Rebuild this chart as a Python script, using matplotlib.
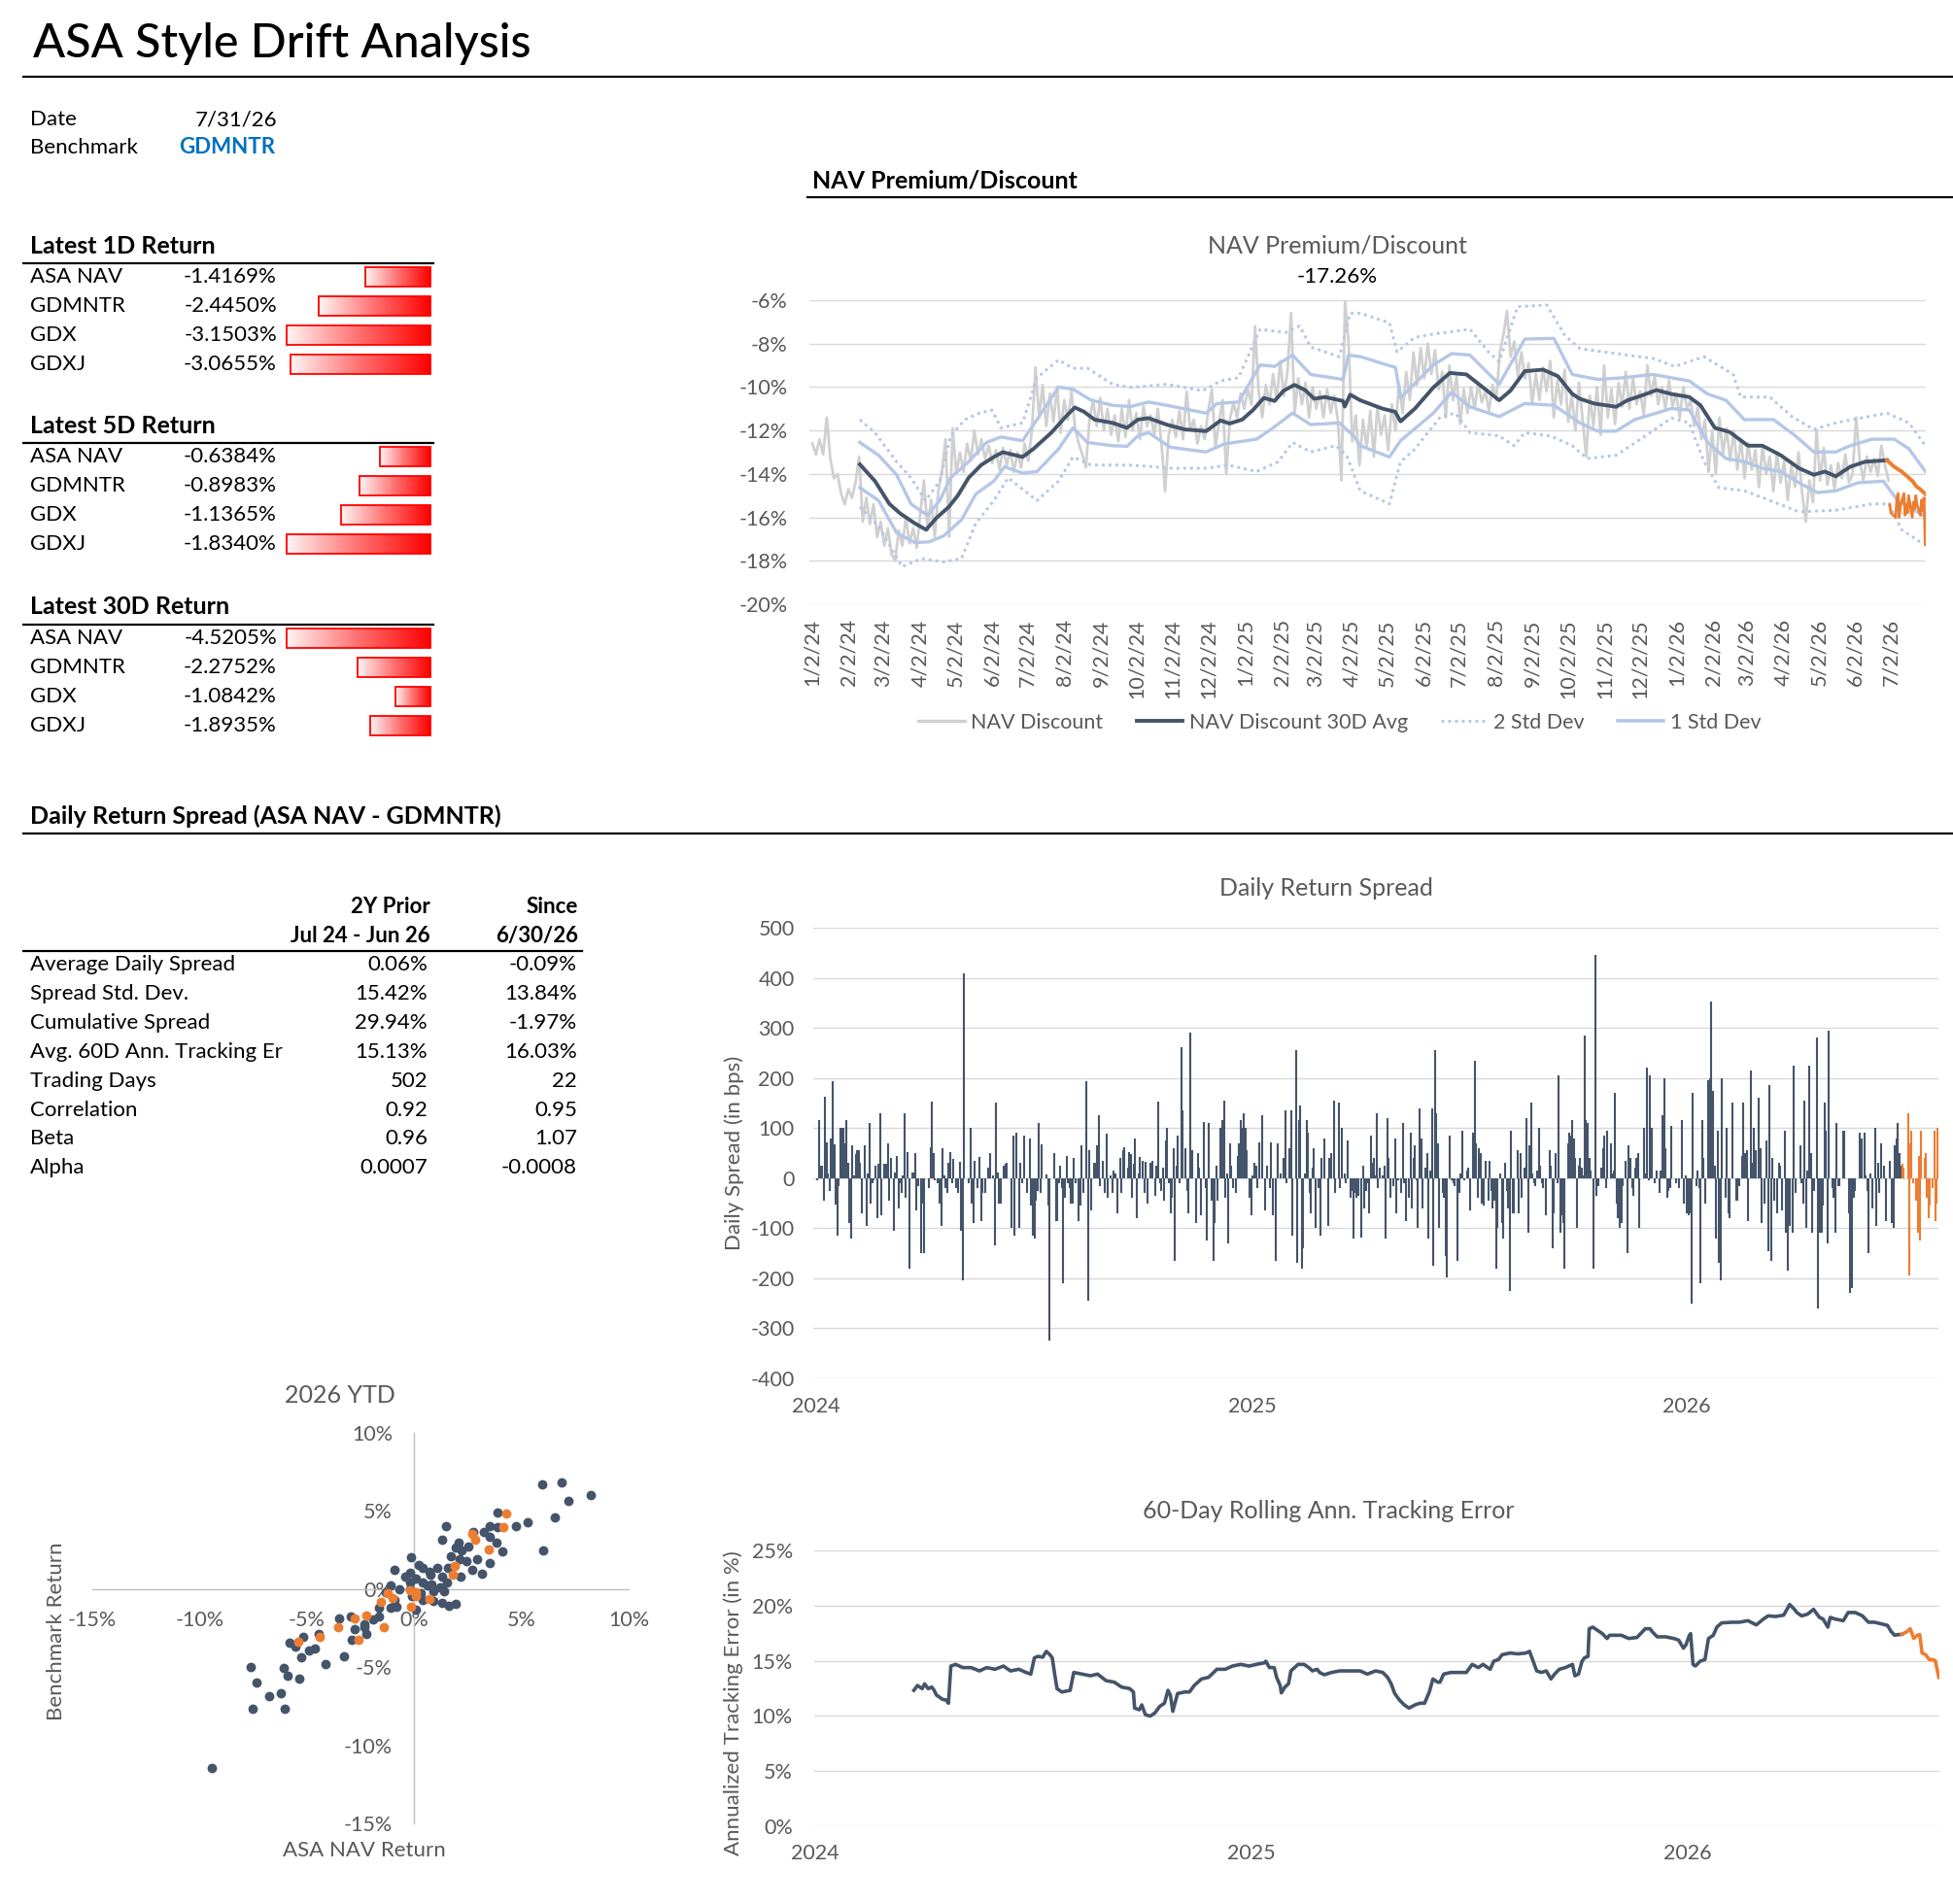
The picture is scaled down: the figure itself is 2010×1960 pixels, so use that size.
import numpy as np
import pandas as pd
import matplotlib
matplotlib.use("Agg")
import matplotlib.pyplot as plt
import matplotlib.dates as mdates
from matplotlib.colors import LinearSegmentedColormap
from matplotlib.patches import Rectangle
from matplotlib.lines import Line2D

plt.rcParams['font.family'] = ['Lato', 'DejaVu Sans']
plt.rcParams['axes.unicode_minus'] = False

# ---------------- data ----------------
report_date = '7/31/26'
benchmark = 'GDMNTR'
ret_names = ['ASA NAV', 'GDMNTR', 'GDX', 'GDXJ']
ret_1d = [-1.4169, -2.4450, -3.1503, -3.0655]
ret_5d = [-0.6384, -0.8983, -1.1365, -1.8340]
ret_30d = [-4.5205, -2.2752, -1.0842, -1.8935]

stat_labels = ['Average Daily Spread', 'Spread Std. Dev.', 'Cumulative Spread',
               'Avg. 60D Ann. Tracking Er', 'Trading Days', 'Correlation', 'Beta', 'Alpha']
stat_2y = ['0.06%', '15.42%', '29.94%', '15.13%', '502', '0.92', '0.96', '0.0007']
stat_since = ['-0.09%', '13.84%', '-1.97%', '16.03%', '22', '0.95', '1.07', '-0.0008']

# NAV discount (%), sampled evenly from 1/2/24 to 6/30/26
nav_raw = [
    -12.6, -13.1, -12.4, -13.1, -11.4, -13.3, -14.2, -14.0, -14.9, -15.4,
    -14.7, -15.1, -14.4, -13.2, -16.2, -15.1, -16.3, -15.4, -16.9, -16.2,
    -17.3, -16.5, -17.7, -18.0, -16.6, -17.3, -16.0, -17.2, -16.5, -17.4,
    -15.8, -14.3, -16.6, -15.2, -16.9, -14.8, -13.9, -12.4, -16.9, -11.9,
    -14.0, -13.0, -13.9, -12.6, -13.4, -12.0, -13.1, -12.4, -13.3, -12.7,
    -13.5, -12.9, -13.8, -12.8, -13.6, -12.9, -13.9, -13.0, -13.7, -12.6,
    -13.4, -12.0, -9.1, -11.4, -9.9, -11.8, -10.3, -11.6, -10.0, -12.1,
    -10.6, -11.5, -10.2, -11.9, -12.6, -13.1, -13.7, -11.5, -10.6, -11.8,
    -10.5, -12.0, -11.0, -12.2, -11.3, -12.5, -11.0, -12.3, -10.6, -12.0,
    -11.2, -12.4, -10.9, -11.8, -11.3, -12.2, -11.0, -12.6, -14.8, -12.2,
    -11.5, -12.3, -11.1, -12.4, -10.2, -12.0, -11.5, -12.6, -11.8, -12.4,
    -11.1, -10.1, -12.8, -11.6, -10.6, -14.0, -11.5, -10.7, -11.4, -10.3,
    -11.0, -10.1, -10.8, -7.2, -10.2, -11.4, -9.9, -10.8, -9.4, -10.6,
    -8.8, -10.4, -9.3, -6.6, -11.2, -9.6, -10.8, -9.8, -11.4, -10.0,
    -11.0, -10.2, -11.4, -10.1, -11.2, -10.4, -11.5, -14.3, -6.0, -8.0,
    -12.5, -11.3, -13.6, -11.5, -12.8, -11.1, -13.2, -10.9, -12.2, -11.3,
    -12.9, -10.8, -12.0, -9.8, -11.2, -9.3, -10.6, -8.4, -9.9, -8.2,
    -9.6, -8.0, -9.4, -8.3, -10.1, -9.3, -11.4, -9.0, -10.6, -9.5,
    -11.7, -10.1, -11.2, -10.0, -11.0, -9.8, -10.7, -10.2, -11.1, -9.9,
    -10.6, -8.4, -7.6, -6.5, -8.6, -7.9, -9.5, -8.4, -9.6, -8.9,
    -10.8, -9.4, -10.6, -9.1, -10.2, -8.8, -11.4, -9.7, -10.8, -9.2,
    -11.6, -10.4, -12.0, -9.8, -11.5, -13.2, -10.4, -11.8, -10.0, -12.2,
    -9.0, -11.4, -10.1, -11.7, -9.8, -10.9, -9.3, -11.0, -9.6, -10.8,
    -10.2, -11.3, -9.0, -10.4, -9.5, -10.8, -10.0, -11.0, -9.7, -10.9,
    -10.3, -11.4, -10.0, -11.0, -10.6, -11.8, -10.9, -12.4, -11.5, -13.9,
    -12.0, -14.0, -11.4, -13.1, -11.9, -13.4, -12.0, -13.8, -12.4, -14.2,
    -12.6, -13.8, -12.9, -14.6, -12.7, -14.0, -13.2, -14.8, -13.0, -14.4,
    -13.4, -15.2, -13.6, -14.6, -13.0, -14.9, -16.2, -14.3, -15.3, -12.0,
    -14.3, -12.8, -14.5, -13.6, -14.7, -13.5, -14.2, -13.1, -14.4, -14.0,
    -11.4, -13.4, -14.3, -13.2, -13.9, -13.3, -14.1, -12.7, -13.6, -14.3,
]
# July 2026 daily NAV discount (latest month)
nav_jul = [-15.4, -15.8, -16.0, -15.2, -14.9, -16.0, -15.5, -14.9, -15.9, -15.4, -15.8,
           -15.0, -16.0, -15.3, -15.6, -15.0, -15.4, -15.9, -15.2, -15.7, -15.1, -17.26]

# 30D average and std-dev bands, x in months since 1/2/24
avg_m = [1.32, 1.74, 2.14, 2.44, 2.84, 3.16, 3.44, 3.79, 4.04, 4.34, 4.69, 5.04, 5.29, 5.84, 6.14,
         6.64, 7.04, 7.29, 7.54, 7.84, 8.34, 8.74, 9.04, 9.34, 9.84, 10.34, 10.94, 11.34, 11.59,
         11.94, 12.24, 12.54, 12.84, 13.09, 13.39, 13.69, 13.94, 14.24, 14.74, 14.79, 14.94, 15.22,
         15.83, 16.19, 16.34, 16.74, 17.25, 17.71, 18.17, 18.57, 19.08, 19.39, 19.79, 20.3, 20.71,
         21.11, 21.32, 21.72, 22.33, 22.64, 23.04, 23.45, 23.86, 24.36, 24.67, 25.07, 25.48, 25.99,
         26.39, 26.9, 27.41, 27.82, 28.12, 28.43, 28.83, 29.24, 29.85]
avg_v = [-13.56, -14.33, -15.38, -15.82, -16.27, -16.57, -16.04, -15.52, -15.0, -14.18, -13.59,
         -13.22, -13.0, -13.22, -12.85, -12.1, -11.36, -10.94, -11.13, -11.5, -11.65, -11.88, -11.5,
         -11.43, -11.73, -11.95, -12.03, -11.54, -11.68, -11.5, -11.06, -10.5, -10.64, -10.17, -9.9,
         -10.14, -10.54, -10.46, -10.64, -10.9, -10.35, -10.61, -10.99, -11.14, -11.58, -10.99,
         -10.02, -9.35, -9.42, -9.94, -10.61, -10.17, -9.27, -9.2, -9.5, -10.32, -10.54, -10.76,
         -10.91, -10.61, -10.39, -10.14, -10.32, -10.46, -10.84, -11.88, -12.07, -12.7, -12.7,
         -13.14, -13.74, -14.04, -13.89, -14.11, -13.67, -13.44, -13.37]
avg_jul_m = [29.85, 30.05, 30.26, 30.41, 30.56, 30.66, 30.77, 30.92]
avg_jul_v = [-13.37, -13.67, -13.89, -14.11, -14.33, -14.56, -14.7, -14.93]

u1_m = [1.32, 1.84, 2.34, 2.74, 3.19, 3.54, 3.84, 4.34, 4.84, 5.24, 5.84, 6.24, 6.84, 7.24, 7.74,
        8.34, 8.84, 9.34, 9.84, 10.94, 11.24, 11.84, 12.44, 12.84, 13.34, 13.84, 14.74, 14.89,
        15.22, 16.2, 16.34, 17.25, 17.76, 18.27, 19.08, 19.79, 20.6, 21.11, 21.82, 22.53, 23.35,
        24.36, 24.87, 25.38, 25.89, 26.7, 27.31, 27.82, 28.43, 28.83, 29.44, 30.05, 30.46, 30.92]
u1_v = [-12.55, -13.14, -14.04, -15.38, -15.9, -15.23, -14.18, -13.44, -12.55, -12.3, -12.47,
        -11.5, -10.0, -10.1, -10.6, -10.84, -10.9, -10.69, -10.84, -11.2, -10.76, -10.69, -8.98,
        -9.05, -8.53, -9.42, -9.65, -8.53, -8.6, -9.1, -10.5, -8.98, -8.46, -8.53, -9.87, -7.79,
        -7.76, -9.42, -9.65, -9.57, -9.42, -9.72, -10.32, -10.61, -11.5, -11.5, -12.25, -12.99,
        -12.99, -12.7, -12.4, -12.4, -12.84, -13.89]
l1_m = [1.32, 1.84, 2.34, 2.84, 3.24, 3.64, 4.14, 4.54, 5.04, 5.34, 5.84, 6.24, 6.84, 7.24, 7.64,
        8.34, 8.74, 9.04, 9.34, 9.94, 10.94, 11.44, 12.34, 12.74, 13.34, 13.84, 14.64, 15.04,
        15.22, 16.03, 16.34, 17.25, 17.76, 18.27, 19.08, 19.79, 20.6, 21.32, 21.82, 22.33, 22.84,
        23.86, 24.36, 24.87, 25.38, 25.89, 26.39, 26.9, 27.41, 27.92, 28.43, 29.04, 29.75, 30.15,
        30.92]
l1_v = [-14.63, -15.23, -16.71, -17.16, -17.13, -16.86, -16.12, -14.93, -14.33, -13.67, -13.96,
        -13.89, -12.85, -11.88, -12.55, -12.7, -12.73, -12.25, -12.1, -12.77, -12.99, -12.62,
        -12.4, -11.95, -11.2, -11.73, -11.65, -12.25, -12.7, -13.22, -12.47, -11.2, -10.24,
        -10.91, -11.36, -10.76, -10.84, -11.65, -12.03, -12.03, -11.5, -10.99, -11.06, -12.55,
        -13.29, -13.44, -13.74, -13.89, -14.41, -14.86, -14.78, -14.41, -14.33, -15.23, -15.97]
u2_m = [1.32, 1.74, 2.34, 2.74, 3.14, 3.54, 3.84, 4.24, 4.64, 4.99, 5.24, 5.84, 6.24, 6.84, 7.24,
        7.64, 8.34, 8.84, 9.84, 10.84, 11.34, 11.84, 12.44, 13.14, 13.54, 13.84, 14.64, 14.94,
        15.22, 16.03, 16.24, 16.74, 17.25, 18.27, 18.78, 19.08, 19.59, 20.4, 20.91, 21.32, 22.33,
        23.35, 23.96, 24.77, 25.58, 25.79, 26.6, 27.21, 27.82, 28.43, 29.85, 30.46, 30.92]
u2_v = [-11.5, -12.1, -13.44, -14.18, -15.23, -14.33, -12.25, -11.5, -11.2, -11.06, -11.88,
        -11.65, -9.57, -8.75, -9.13, -9.13, -9.87, -10.02, -9.87, -10.17, -9.72, -9.57, -7.34,
        -7.49, -7.19, -8.16, -8.6, -6.6, -6.6, -7.04, -8.38, -7.71, -7.56, -7.34, -8.38, -8.83,
        -6.3, -6.22, -7.64, -8.23, -8.46, -8.68, -9.05, -8.6, -9.42, -10.46, -10.46, -11.36,
        -11.95, -11.65, -11.2, -11.65, -12.7]
l2_m = [1.32, 1.84, 2.49, 3.04, 3.64, 4.14, 4.54, 5.04, 5.44, 6.24, 6.84, 7.24, 7.74, 8.84, 9.94,
        10.94, 11.54, 12.34, 12.94, 13.34, 13.84, 14.54, 14.84, 15.22, 16.03, 16.34, 16.74,
        17.45, 17.86, 18.27, 19.08, 19.49, 19.79, 20.5, 21.11, 21.52, 22.33, 23.14, 23.86, 24.36,
        24.77, 25.18, 25.89, 26.49, 27.41, 28.43, 29.44, 29.9, 30.26, 30.87]
l2_v = [-15.52, -16.41, -18.27, -17.9, -18.05, -17.9, -16.27, -15.23, -14.18, -15.23, -14.33,
        -13.22, -13.59, -13.59, -13.74, -13.74, -13.59, -13.89, -13.44, -12.55, -12.99, -12.7,
        -13.14, -14.78, -15.38, -13.44, -12.85, -11.36, -11.2, -12.1, -12.25, -12.7, -12.1,
        -12.25, -12.7, -13.29, -13.14, -12.25, -11.43, -11.65, -13.44, -14.63, -14.78, -15.15,
        -15.75, -15.67, -15.38, -15.38, -16.57, -17.24]

# Daily return spread (bps), 1/2/24 .. 6/30/26, then July 2026
spread_bps = [
    -5, 115, 25, 25, -45, 163, 72, 10, -25, 80, 193, 68, -52, -115, -15, 100, 100, 100, 70, 115,
    30, -90, -120, 65, 5, 48, 55,
    55, 30, -70, 0, 65, -95, 10, 110, -50, -10, -5, 25, -80, 28, 130, -75, 0, 28, 28, 70, -45,
    40, 0, -105, 12, 45, -60, -10, -30, 5, 130, -40, 52, -180,
    0, 12, 12, 50, -65, -15, 0, -150, -50, -150, 0, 0, -20, 62, 152, 50, -5, 0, -10, -50, -95,
    60, 5, -20, -30, 30, 52, -10, 38, 0, -20, -30, 32, -105, -205, 408, 0,
    0, -10, 100, -50, -90, 35, 0, -20, 42, -85, -30, 0, -30, 0, 20, 50, 0, 5, -135, 150, 12,
    -50, -50, 0, 25, 28, 30, 0, 0,
    -100, 85, -115, 90, 0, -100, 30, -10, 85, 0, -30, 0, 80, -55, -115, -120, -45, -25, 110,
    -30, 68, 0, 0, 8, -55, -325, 0,
    0, 50, -85, -85, -10, 25, -20, -210, -40, 45, -10, -20, -50, -50, 40, -10, 0, -85, -55, 65,
    -30, 0, 193, -245, 55,
    -65, 0, 30, 30, 65, 125, -15, 0, 35, -30, 88, -40, 0, 5, -30, 15, 10, -70, 0, 40, -30, 55,
    62, 0, 20, 52,
    48, -40, 28, 80, -80, 10, 42, 0, 35, -30, 32, -50, 0, 30, 35, 0, -35, 25, 152, -10, -25, 20,
    -45, 75, 100, -10,
    -70, -40, 60, -165, 25, 85, -10, 262, 135, 0, 60, -25, -70, 290, 55, 0, 0, -90, 50, 20, -75,
    0, 112, -20, -125, 110,
    0, -45, -165, -90, 25, -45, 0, 100, 115, 155, -40, 10, -130, 70, 25, -20, 0, -30, 45, 70,
    115, 100, 130, 100, 55,
    0, -40, -75, 5, 30, 25, -20, 72, 0, 125, 0, -65, 25, 0, -20, 72, -75, 0, -165, 70, 0, 10, 0,
    40, 135, -10, 0, 60, 135,
    -115, 0, 255, -170, 115, 145, -180, -140, 10, 115, 90, -30, -70, 20, 60, -100, 0, -20, -115,
    40, 0, 80, 0, -95, 40, 50, 0, 155, -30, 0, 150, -20, 100, 0, 10,
    -10, 75, 0, -40, -25, -120, -30, -40, -35, 0, -118, 25, -60, -25, -10, -70, 85, 30, 40, 5,
    130, -20, 20, 0, 5, 25, -120,
    120, 40, -40, 0, -15, 80, -70, -5, 0, -30, 110, -10, -85, 0, -40, 90, -60, 40, 65, -5, -100,
    140, 80, -60, 0, 20, 50, -120, 15, 140,
    -175, 255, 130, 70, -100, 0, -30, -40, -155, -198, 0, 85, -5, -10, -15, 0, -165, -30, 10,
    95, -5, 0, 15, 20, -65, 0,
    90, 235, 70, -40, 60, 50, -50, -55, 35, 0, -45, 35, -25, -60, -45, -180, -100, 0, 10, -90,
    -120, 30, -25, -60, -225, 95, -70, -70, 0, 55,
    -70, 50, -40, 0, 20, 120, -110, 65, 150, 10, -10, -15, 15, 100, 25, -10, -20, 0, -75, 0, 55,
    25, -140, -70, 50, -10, 205, -110,
    -75, -90, -180, 0, 70, 90, 85, 115, 80, 40, -100, 25, 40, 20, 5, 285, 115, 110, 40, 15, 0,
    -180, 445, -35, -15, 0, 20, 60, 85,
    -20, 95, 0, 70, 10, 15, 170, -50, -80, -100, -90, -15, 0, 35, -150, 65, 40, -20, -35, 20, 40,
    50, -100, 0, 0, 100, 10, 220,
    -5, 205, 100, 0, -10, 15, 0, -30, 15, 125, 200, 60, -40, -25, -20, 105, 0, 0, -10, 0, -20, 0,
    115, -50, 5, -70, -75,
    -70, -250, 170, 0, -15, 15, -20, -210, 115, 40, -50, 0, 195, 200, 352, 175, 25, -120, 95,
    -170, -205, 200, 0, -40, 100, -70, -80, 0, 150,
    0, -45, -45, -15, 0, 45, 150, 50, 55, -85, 0, 215, 30, 100, 55, 0, 160, 60, -90, 0, -50, 75,
    -145, 185, -165, 40, -45, 0, -70,
    30, 25, -65, 0, 95, -110, -185, -95, 0, -110, 225, -30, 0, 0, 65, -10, -50, 155, -100, 15,
    225, 50, -110, -25, 0, 280, -260, -110,
    -110, -55, 150, 95, -130, 295, 0, -20, -40, -110, 110, -15, -15, 0, 95, 95, 0, 0, -70, -230,
    -220, -40, -25, 0, 0, 90, 80, 0, 90,
    5, -25, -150, 10, -60, 0, 100, -95, 30, -30, 70, 0, 25, -85, 0, 0, 35, -90, -100, 65, 80,
    110, 50, 25,
]
spread_jul = [28, 20, 130, -195, 70, 95, -10, -45, -110, 45, -125, 95, 40, 50, -40, -80, -55,
              -20, 95, -85, -50, 100]

# 60-day rolling annualised tracking error (%), x = days since 1/1/24
te_days = [83, 86, 90, 92, 95, 98, 100, 102, 104, 107, 110, 112, 114, 118, 124, 131, 138, 144,
           151, 158, 164, 171, 177, 181, 184, 187, 191, 194, 197, 199, 201, 203, 207, 214, 217,
           224, 231, 237, 244, 251, 257, 264, 267, 268, 272, 274, 277, 281, 285, 289, 293, 296,
           298, 300, 304, 310, 314, 318, 324, 330, 337, 344, 350, 357, 364, 370, 377, 378, 381,
           385, 387, 390, 391, 394, 397, 399, 402, 405, 410, 414, 417, 421, 423, 427, 433, 440,
           450, 457, 463, 470, 476, 480, 483, 486, 490, 494, 498, 503, 507, 511, 515, 518, 522,
           524, 527, 533, 540, 546, 551, 556, 560, 566, 569, 573, 576, 583, 589, 596, 599, 603,
           605, 609, 613, 617, 620, 624, 629, 635, 637, 640, 643, 645, 648, 649, 652, 656, 660,
           664, 666, 669, 676, 682, 689, 696, 700, 702, 706, 713, 720, 724, 728, 730, 733, 734,
           736, 738, 742, 746, 749, 753, 756, 760, 769, 775, 782, 789, 795, 799, 805, 812, 817,
           821, 823, 827, 832, 837, 842, 845, 849, 851, 855, 862, 866, 872, 878, 883, 888, 894,
           899, 902, 905, 908, 911]
te_vals = [12.32, 12.76, 12.47, 12.91, 12.47, 12.62, 12.32, 11.88, 11.74, 11.50, 11.44, 11.15,
           14.52, 14.67, 14.38, 14.38, 14.08, 14.38, 14.23, 14.52, 14.08, 14.23, 13.94, 13.79,
           15.26, 15.40, 15.32, 15.85, 15.55, 15.26, 13.79, 12.47, 12.17, 12.32, 13.94, 13.79,
           13.64, 13.79, 13.20, 13.06, 12.62, 12.47, 12.17, 10.71, 10.56, 11.00, 10.12, 9.98,
           10.27, 10.86, 11.15, 12.32, 11.88, 10.42, 12.03, 12.17, 12.17, 12.76, 13.35, 13.50,
           14.23, 14.23, 14.52, 14.67, 14.52, 14.67, 14.82, 14.96, 14.38, 14.38, 13.50, 12.76,
           12.09, 12.62, 12.91, 14.08, 14.38, 14.67, 14.67, 14.38, 14.08, 14.23, 13.94, 13.73,
           13.94, 14.08, 14.08, 14.08, 13.79, 14.08, 13.94, 13.50, 12.91, 12.03, 11.44, 11.00,
           10.71, 11.00, 11.15, 11.15, 12.17, 13.35, 13.06, 13.06, 13.79, 13.94, 13.94, 13.94,
           14.67, 14.38, 14.67, 14.23, 14.96, 15.11, 15.55, 15.70, 15.62, 15.70, 15.85, 14.67,
           14.08, 13.94, 14.08, 13.35, 13.79, 14.23, 14.38, 14.67, 13.64, 13.79, 14.96, 15.26,
           15.40, 17.90, 18.05, 17.75, 17.46, 17.02, 17.31, 17.31, 17.31, 17.02, 17.11, 17.90,
           17.90, 17.61, 17.17, 17.17, 17.02, 16.87, 16.14, 16.43, 17.31, 17.46, 14.67, 14.52,
           14.96, 15.11, 17.02, 17.31, 18.05, 18.43, 18.49, 18.49, 18.63, 18.25, 18.78, 19.07,
           19.01, 19.13, 20.10, 19.66, 19.37, 19.07, 19.22, 19.66, 18.93, 18.78, 18.05, 18.93,
           18.78, 18.63, 19.37, 19.37, 19.07, 18.49, 18.49, 18.34, 18.20, 17.66, 17.31, 17.37,
           17.40]
te_jul_days = [911, 912, 915, 918, 921, 924, 926, 928, 931, 934, 936, 939, 942]
te_jul_vals = [17.40, 17.46, 17.61, 17.90, 17.02, 17.31, 17.37, 15.70, 15.55, 15.11, 15.11,
               15.02, 13.50]

# 2026 YTD scatter (%)
asa_ret = [5.96, 6.87, 8.22, 7.17, 6.57, 5.31, 4.75, 3.9, 3.9, 3.54, 3.54, 3.23, 2.77, 3.84, 4.1,
           6.0, 1.47, 1.31, 2.06, 2.53, 2.22, 1.96, 2.93, 2.42, 2.73, 3.54, 3.17, 1.72, 2.12, 1.58,
           1.31, 1.52, 1.07, 0.77, 2.16, 1.72, -0.14, 0.2, 0.4, 0.71, -0.2, 0.1, -0.2, -0.91, 0.4,
           0.81, 1.21, 1.41, -1.11, -0.71, -1.31, -0.1, 0.3, 0.91, 1.31, 1.62, 1.96, 0.4, -0.91,
           -1.11, -0.81, -1.62, 0.1, -1.62, -1.92, -2.32, -2.97, -3.49, -2.77, -2.32, -2.22, -2.89,
           -3.29, -4.14, -4.44, -4.65, -4.91, -5.15, -5.52, -5.8, -5.25, -5.35, -5.9, -6.1, -6.2,
           -6.02, -6.77, -7.62, -7.33, -7.52, -9.43, 0.61, 0.91, -0.2, -0.4]
bm_ret = [6.73, 6.84, 6.0, 5.67, 4.62, 4.27, 4.0, 4.89, 3.96, 4.0, 3.33, 3.63, 3.63, 2.96, 2.4,
          2.47, 4.0, 3.16, 3.0, 2.72, 2.45, 2.67, 1.94, 1.78, 1.22, 1.67, 0.96, 2.12, 1.89, 1.34,
          0.78, 0.45, 1.34, 0.89, 0.78, 1.34, 2.05, 1.56, 1.34, 1.11, 1.07, 0.67, 0.45, 1.22, 0.45,
          0.27, 0.11, -0.11, 0.22, -0.04, -0.18, -0.45, -0.27, -0.78, -0.89, -1.07, -0.94, -0.67,
          -0.67, -1.22, -1.11, -1.22, -1.34, -1.78, -1.96, -2.23, -1.78, -1.89, -2.56, -2.45,
          -2.9, -3.23, -4.28, -4.79, -2.9, -3.79, -3.9, -3.07, -3.67, -3.45, -4.39, -5.75, -5.57,
          -5.06, -6.64, -7.64, -6.84, -5.01, -6.01, -7.64, -11.43, 0.22, -0.11, 0.0, 0.78]
asa_jul = [4.3, 4.18, 2.73, 2.85, 3.49, 1.88, 1.78, -0.2, 0.06, 0.1, 0.71, -1.01, -1.56, -0.14,
           -2.22, -2.77, -1.41, -3.54, -4.38, -2.57, -5.39, -1.21]
bm_jul = [4.83, 3.94, 3.52, 3.16, 2.52, 1.49, 0.89, -0.07, -0.22, -0.45, -0.62, -0.56, -0.82,
          -1.11, -1.67, -1.89, -2.45, -2.45, -3.07, -3.25, -3.39, -0.27]

# ---------------- styling ----------------
NAVY = '#44546A'
ORANGE = '#ED7D31'
LBLUE = '#B4C7E7'
LGREY = '#D0D0D0'
GRID = '#D9D9D9'
TXT = '#595959'

W, H = 2010, 1960
fig = plt.figure(figsize=(W / 100, H / 100), dpi=100)


def box(x0, y0, x1, y1):
    return fig.add_axes([x0 / W, 1 - y1 / H, (x1 - x0) / W, (y1 - y0) / H])


def ftext(x, y, s, **kw):
    kw.setdefault('va', 'center')
    fig.text(x / W, 1 - y / H, s, **kw)


def hline(y, x0, x1, lw=1.5, color='black'):
    fig.add_artist(Line2D([x0 / W, x1 / W], [1 - y / H, 1 - y / H], lw=lw, color=color,
                          transform=fig.transFigure))


def dnum(idx):
    return mdates.date2num(pd.DatetimeIndex(idx).to_pydatetime())


NAV_BASE = pd.Timestamp('2024-01-02')
YR_BASE = pd.Timestamp('2024-01-01')


def m2d(m):
    return dnum(NAV_BASE + pd.to_timedelta(np.asarray(m) * 30.44, unit='D'))


def d2n(days):
    return dnum(YR_BASE + pd.to_timedelta(np.asarray(days, dtype=float), unit='D'))


jul_dates = [d for d in pd.bdate_range('2026-07-01', '2026-07-31')
             if d != pd.Timestamp('2026-07-03')]

# ---------------- header ----------------
ftext(34, 45, 'ASA Style Drift Analysis', fontsize=35, weight='medium')
hline(79, 24, W, lw=1.6)
ftext(31, 123, 'Date', fontsize=16)
ftext(285, 123, report_date, fontsize=16, ha='right')
ftext(31, 152, 'Benchmark', fontsize=16)
ftext(184, 152, benchmark, fontsize=16, color='#0070C0', weight='bold')

# ---------------- return tables with data bars ----------------
cmap = LinearSegmentedColormap.from_list('databar', ['#FFF4F4', '#FF7070', '#FF0000'])
grad = np.linspace(0, 1, 256).reshape(1, -1)
blocks = [('Latest 1D Return', ret_1d, 253), ('Latest 5D Return', ret_5d, 438),
          ('Latest 30D Return', ret_30d, 625)]
for title, vals, hy in blocks:
    ftext(31, hy, title, fontsize=18, weight='bold')
    hline(hy + 18, 24, 446, lw=1.6)
    r0 = hy + 32
    for i, (n, v) in enumerate(zip(ret_names, vals)):
        ftext(31, r0 + 30 * i, n, fontsize=16)
        ftext(285, r0 + 30 * i, f'{v:.4f}%', fontsize=16, ha='right')
    bx = box(295, r0 - 15, 442.5, r0 + 105)
    mags = np.abs(np.array(vals))
    for i, m in enumerate(mags):
        bx.imshow(grad, cmap=cmap, extent=(m, 0, i + 0.333, i - 0.333), aspect='auto',
                  interpolation='bilinear')
        bx.add_patch(Rectangle((0, i - 0.333), m, 0.667, fill=False, ec='#FF0000', lw=1.3,
                               clip_on=False))
    bx.set_xlim(mags.max(), 0)
    bx.set_ylim(3.5, -0.5)
    bx.axis('off')

# ---------------- stats table ----------------
ftext(31, 840, 'Daily Return Spread (ASA NAV - GDMNTR)', fontsize=18, weight='bold')
hline(858, 24, W, lw=1.6)
ftext(443, 933, '2Y Prior', fontsize=16, weight='bold', ha='right')
ftext(443, 963, 'Jul 24 - Jun 26', fontsize=16, weight='bold', ha='right')
ftext(595, 933, 'Since', fontsize=16, weight='bold', ha='right')
ftext(595, 963, '6/30/26', fontsize=16, weight='bold', ha='right')
hline(979, 24, 599, lw=1.6)
for i, (lab, a, b) in enumerate(zip(stat_labels, stat_2y, stat_since)):
    y = 993 + 29.9 * i
    ftext(31, y, lab, fontsize=16)
    ftext(440, y, a, fontsize=16, ha='right')
    ftext(594, y, b, fontsize=16, ha='right')

# ---------------- NAV premium / discount chart ----------------
ftext(836, 186, 'NAV Premium/Discount', fontsize=18, weight='bold')
hline(203, 831, W, lw=1.6)
ftext(1376, 253, 'NAV Premium/Discount', fontsize=18, color=TXT, ha='center')
ftext(1376, 285, f'{nav_jul[-1]:.2f}%', fontsize=16, ha='center')

ax = box(833, 309, 1982, 622)
raw_x = dnum(pd.date_range('2024-01-02', '2026-06-30', periods=len(nav_raw)))
ax.plot(raw_x, nav_raw, color=LGREY, lw=2.0, zorder=2)
ax.plot(dnum(jul_dates), nav_jul, color=ORANGE, lw=2.0, zorder=5)
dot = (0, (1, 1.4))
ax.plot(m2d(u2_m), u2_v, color=LBLUE, lw=2.1, ls=dot, zorder=3)
ax.plot(m2d(l2_m), l2_v, color=LBLUE, lw=2.1, ls=dot, zorder=3)
ax.plot(m2d(u1_m), u1_v, color=LBLUE, lw=2.4, zorder=3)
ax.plot(m2d(l1_m), l1_v, color=LBLUE, lw=2.4, zorder=3)
ax.plot(m2d(avg_m), avg_v, color=NAVY, lw=2.8, zorder=4)
ax.plot(m2d(avg_jul_m), avg_jul_v, color=ORANGE, lw=2.8, zorder=4)
ax.set_ylim(-20, -6)
ax.set_yticks(np.arange(-20, -5, 2))
ax.set_yticklabels([f'{v}%' for v in range(-20, -5, 2)])
xt = [pd.Timestamp(2024 + (k // 12), k % 12 + 1, 2) for k in range(31)]
ax.set_xticks(dnum(xt))
ax.set_xticklabels([f'{d.month}/{d.day}/{d.year % 100}' for d in xt], rotation=90, va='top')
ax.set_xlim(dnum([NAV_BASE - pd.Timedelta(days=2.5)])[0],
            dnum([pd.Timestamp('2026-07-31')])[0] + 0.5)
ax.grid(axis='y', color=GRID, lw=1.0)
ax.set_axisbelow(True)
for s in ax.spines.values():
    s.set_visible(False)
ax.tick_params(axis='both', length=0, labelsize=15.5, labelcolor=TXT)
ax.tick_params(axis='y', pad=16)
ax.tick_params(axis='x', pad=11)
handles = [Line2D([], [], color=LGREY, lw=2.4), Line2D([], [], color=NAVY, lw=2.8),
           Line2D([], [], color=LBLUE, lw=2.1, ls=dot), Line2D([], [], color=LBLUE, lw=2.6)]
ax.legend(handles, ['NAV Discount', 'NAV Discount 30D Avg', '2 Std Dev', '1 Std Dev'],
          loc='center', bbox_to_anchor=(1379 / W, 1 - 744 / H), bbox_transform=fig.transFigure,
          ncol=4, frameon=False, fontsize=15.5, handlelength=2.2, handletextpad=0.3,
          columnspacing=1.6, labelcolor=TXT)

# ---------------- daily return spread chart ----------------
ftext(1365, 914, 'Daily Return Spread', fontsize=18, color=TXT, ha='center')
ftext(756, 1187, 'Daily Spread (in bps)', fontsize=16, color=TXT, ha='center', rotation=90)
ax2 = box(837, 955, 1995, 1419)
sp_x = dnum(pd.date_range('2024-01-02', '2026-06-30', periods=len(spread_bps)))
ax2.vlines(sp_x, 0, spread_bps, color=NAVY, lw=1.5)
ax2.vlines(dnum(jul_dates), 0, spread_jul, color=ORANGE, lw=1.5)
ax2.set_ylim(-400, 500)
ax2.set_yticks(range(-400, 501, 100))
yrs = [pd.Timestamp('2024-01-01'), pd.Timestamp('2025-01-01'), pd.Timestamp('2026-01-01')]
ax2.set_xticks(dnum(yrs))
ax2.set_xticklabels([str(d.year) for d in yrs])
ax2.set_xlim(d2n([-2.45])[0], d2n([942.5])[0])
ax2.grid(axis='y', color=GRID, lw=1.0)
ax2.set_axisbelow(True)
for s in ax2.spines.values():
    s.set_visible(False)
ax2.tick_params(axis='both', length=0, labelsize=15.5, labelcolor=TXT)
ax2.tick_params(axis='y', pad=14)
ax2.tick_params(axis='x', pad=14)

# ---------------- tracking error chart ----------------
ftext(1367, 1555, '60-Day Rolling Ann. Tracking Error', fontsize=18, color=TXT, ha='center')
ftext(755, 1753, 'Annualized Tracking Error (in %)', fontsize=16, color=TXT, ha='center',
      rotation=90)
ax3 = box(838, 1596, 1996, 1880)
ax3.plot(d2n(te_days), te_vals, color=NAVY, lw=2.6)
ax3.plot(d2n(te_jul_days), te_jul_vals, color=ORANGE, lw=2.6)
ax3.set_ylim(0, 25)
ax3.set_yticks(range(0, 26, 5))
ax3.set_yticklabels([f'{v}%' for v in range(0, 26, 5)])
ax3.set_xticks(dnum(yrs))
ax3.set_xticklabels([str(d.year) for d in yrs])
ax3.set_xlim(d2n([-0.5])[0], d2n([942.5])[0])
ax3.grid(axis='y', color=GRID, lw=1.0)
ax3.set_axisbelow(True)
for s in ax3.spines.values():
    s.set_visible(False)
ax3.tick_params(axis='both', length=0, labelsize=15.5, labelcolor=TXT)
ax3.tick_params(axis='y', pad=16)
ax3.tick_params(axis='x', pad=13)

# ---------------- scatter ----------------
ftext(350, 1436, '2026 YTD', fontsize=18, color=TXT, ha='center')
ftext(58, 1679, 'Benchmark Return', fontsize=16, color=TXT, ha='center', rotation=90)
ftext(375, 1905, 'ASA NAV Return', fontsize=16, color=TXT, ha='center')
ax4 = box(95, 1475, 647, 1877)
ax4.scatter(asa_ret, bm_ret, s=50, color=NAVY, lw=0, zorder=3)
ax4.scatter(asa_jul, bm_jul, s=50, color=ORANGE, lw=0, zorder=4)
ax4.set_xlim(-15, 10)
ax4.set_ylim(-15, 10)
ax4.set_xticks(range(-15, 11, 5))
ax4.set_yticks(range(-15, 11, 5))
ax4.set_xticklabels([f'{v}%' for v in range(-15, 11, 5)])
ax4.set_yticklabels([f'{v}%' for v in range(-15, 11, 5)])
ax4.spines['left'].set_position(('data', 0))
ax4.spines['bottom'].set_position(('data', 0))
ax4.spines['top'].set_visible(False)
ax4.spines['right'].set_visible(False)
for k in ('left', 'bottom'):
    ax4.spines[k].set_color('#BFBFBF')
    ax4.spines[k].set_linewidth(1.0)
ax4.tick_params(axis='both', length=0, labelsize=15.5, labelcolor=TXT)
ax4.tick_params(axis='x', pad=16)
ax4.tick_params(axis='y', pad=16)
ax4.patch.set_alpha(0)

fig.savefig('out.png', dpi=100)
